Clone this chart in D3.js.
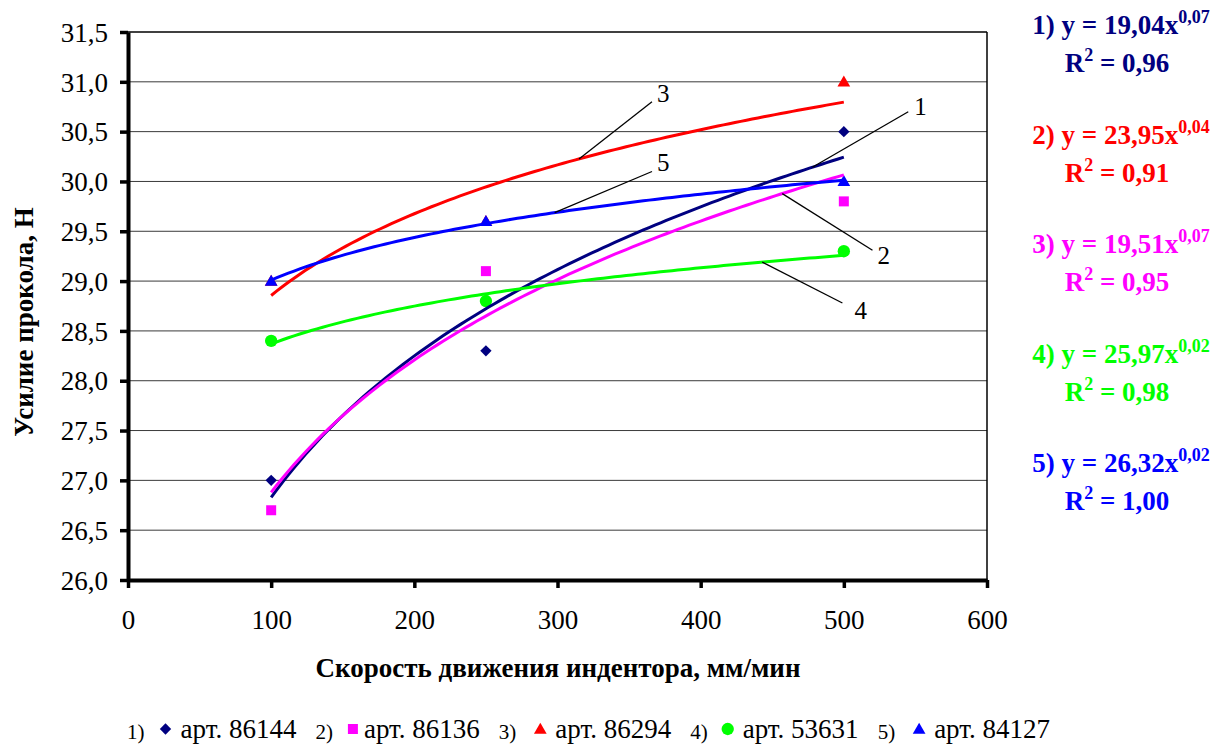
<!DOCTYPE html>
<html>
<head>
<meta charset="utf-8">
<script src="https://cdn.jsdelivr.net/npm/d3@7"></script>
<style>
  html, body { margin: 0; padding: 0; background: #fff; }
  svg { display: block; }
</style>
</head>
<body>
<svg id="chart" width="1224" height="747"></svg>
<script>
// Measured speeds of the indenter, mm/min
const speeds = [100, 250, 500];

// Puncture force (N) for each article
const art86144 = [27.0, 28.3, 30.5];
const art86136 = [26.7, 29.1, 29.8];
const art86294 = [29.0, 29.6, 31.0];
const art53631 = [28.4, 28.8, 29.3];
const art84127 = [29.0, 29.6, 30.0];

const seriesLabels = ["арт. 86144", "арт. 86136", "арт. 86294", "арт. 53631", "арт. 84127"];
const seriesNumbers = ["1)", "2)", "3)", "4)", "5)"];
const seriesColors = ["#000080", "#FF00FF", "#FF0000", "#00FF00", "#0000FF"];
const seriesSymbols = ["diamond", "square", "triangle", "circle", "triangle"];

// Axis ticks
const xTickValues = [0, 100, 200, 300, 400, 500, 600];
const yTickValues = [26.0, 26.5, 27.0, 27.5, 28.0, 28.5, 29.0, 29.5, 30.0, 30.5, 31.0, 31.5];

// Regression equations shown at the right
const eqNumbers = ["1)", "2)", "3)", "4)", "5)"];
const eqCoefs = ["19,04", "23,95", "19,51", "25,97", "26,32"];
const eqExps = ["0,07", "0,04", "0,07", "0,02", "0,02"];
const eqR2 = ["0,96", "0,91", "0,95", "0,98", "1,00"];
const eqColors = ["#000080", "#FF0000", "#FF00FF", "#00FF00", "#0000FF"];

// Leader-line callouts: series index, speed of the anchor on the trend curve,
// and the outer end of the leader in data units
const calloutText = ["3", "5", "1", "2", "4"];
const calloutSeries = [2, 4, 0, 1, 3];
const calloutAnchorX = [315, 298, 478, 457, 443];
const calloutEndX = [366, 366, 545, 520, 499];
const calloutEndY = [30.80, 30.10, 30.70, 29.31, 28.78];

const FONT = "'Liberation Serif', 'Times New Roman', serif";

const series = [art86144, art86136, art86294, art53631, art84127].map((vals, i) => ({
  name: seriesLabels[i], num: seriesNumbers[i], color: seriesColors[i], symbol: seriesSymbols[i],
  points: speeds.map((x, j) => ({ x, y: vals[j] }))
}));

// Least-squares power fit y = a * x^b (linear in log-log space)
function powerFit(points) {
  const lx = points.map(p => Math.log(p.x)), ly = points.map(p => Math.log(p.y));
  const mx = d3.mean(lx), my = d3.mean(ly);
  let sxy = 0, sxx = 0;
  lx.forEach((v, i) => { sxy += (v - mx) * (ly[i] - my); sxx += (v - mx) * (v - mx); });
  const b = sxy / sxx;
  const a = Math.exp(my - b * mx);
  return x => a * Math.pow(x, b);
}
series.forEach(s => { s.fit = powerFit(s.points); });

const svg = d3.select("#chart");
const x = d3.scaleLinear().domain([0, 600]).range([128, 987]);
const y = d3.scaleLinear().domain([26, 31.5]).range([580, 32]);
const fmt = v => d3.format(".1f")(v).replace(".", ",");

// Horizontal gridlines
svg.append("g").selectAll("line")
  .data(yTickValues.filter(v => v > 26 && v < 31.5))
  .join("line")
  .attr("x1", x(0)).attr("x2", x(600))
  .attr("y1", d => y(d)).attr("y2", d => y(d))
  .attr("stroke", "#3a3a3a").attr("stroke-width", 1);

// Top and right frame
svg.append("line").attr("x1", x(0)).attr("x2", x(600)).attr("y1", y(31.5)).attr("y2", y(31.5))
  .attr("stroke", "#000").attr("stroke-width", 1.5);
svg.append("line").attr("x1", x(600)).attr("x2", x(600)).attr("y1", y(31.5)).attr("y2", y(26))
  .attr("stroke", "#000").attr("stroke-width", 1.5);

// Axes
const yAxis = d3.axisLeft(y).tickValues(yTickValues).tickFormat(fmt).tickSizeOuter(0).tickSizeInner(8).tickPadding(12);
const gy = svg.append("g").attr("transform", `translate(${x(0)},0)`).call(yAxis);
const xAxis = d3.axisBottom(x).tickValues(xTickValues).tickFormat(d3.format("d")).tickSizeOuter(0).tickSizeInner(8).tickPadding(22);
const gx = svg.append("g").attr("transform", `translate(0,${y(26)})`).call(xAxis);
[gx, gy].forEach(g => {
  g.attr("font-family", null).attr("font-size", null);
  g.select(".domain").attr("stroke", "#000").attr("stroke-width", 4);
  g.selectAll(".tick line").attr("stroke", "#000").attr("stroke-width", 3.5);
  g.selectAll(".tick text").attr("fill", "#000").attr("font-size", 27);
});
gy.selectAll(".tick text").attr("dy", "0.34em");
gx.selectAll(".tick text").attr("dy", "0.71em");

// Axis titles
svg.append("text")
  .attr("transform", `translate(33,${(y(26) + y(31.5)) / 2 + 16}) rotate(-90)`)
  .attr("text-anchor", "middle").attr("font-weight", "bold").attr("font-size", 27)
  .text("Усилие прокола, Н");
svg.append("text")
  .attr("x", 558).attr("y", 677)
  .attr("text-anchor", "middle").attr("font-weight", "bold").attr("font-size", 27)
  .text("Скорость движения индентора, мм/мин");

// Marker shapes
function symbolPath(kind) {
  if (kind === "diamond") return d3.symbol(d3.symbolSquare, 64)();
  if (kind === "square") return d3.symbol(d3.symbolSquare, 100)();
  if (kind === "triangle") return d3.symbol(d3.symbolTriangle, 70)();
  return d3.symbol(d3.symbolCircle, 120)();
}
function symbolTransform(kind, px, py) {
  if (kind === "diamond") return `translate(${px},${py}) rotate(45)`;
  if (kind === "triangle") return `translate(${px},${py + 1})`;
  return `translate(${px},${py})`;
}

// Data markers
series.forEach(s => {
  svg.append("g").selectAll("path")
    .data(s.points).join("path")
    .attr("d", symbolPath(s.symbol))
    .attr("transform", d => symbolTransform(s.symbol, x(d.x), y(d.y)))
    .attr("fill", s.color);
});

// Power trend curves over the measured range
const line = d3.line().x(d => x(d.x)).y(d => y(d.y)).curve(d3.curveLinear);
const xs = d3.range(100, 500.001, 4);
series.forEach(s => {
  svg.append("path")
    .attr("d", line(xs.map(v => ({ x: v, y: s.fit(v) }))))
    .attr("fill", "none").attr("stroke", s.color).attr("stroke-width", 3);
});

// Callouts with leader lines
const calloutDx = [5, 5, 6, 5, 12];
const calloutDy = [0, 0, 3, 14, 16];
calloutText.forEach((t, i) => {
  const s = series[calloutSeries[i]];
  const ax = x(calloutAnchorX[i]), ay = y(s.fit(calloutAnchorX[i]));
  const ex = x(calloutEndX[i]), ey = y(calloutEndY[i]);
  svg.append("line").attr("x1", ax).attr("y1", ay).attr("x2", ex).attr("y2", ey)
    .attr("stroke", "#000").attr("stroke-width", 1.3);
  svg.append("text").attr("x", ex + calloutDx[i]).attr("y", ey + calloutDy[i])
    .attr("font-size", 25).attr("fill", "#000").text(t);
});

// Regression equations
eqNumbers.forEach((n, i) => {
  const by = 34 + i * 109.5;
  const t1 = svg.append("text").attr("x", 1121).attr("y", by).attr("text-anchor", "middle")
    .attr("font-weight", "bold").attr("font-size", 27).attr("fill", eqColors[i]);
  t1.append("tspan").text(`${n} y = ${eqCoefs[i]}x`);
  t1.append("tspan").attr("font-size", 18).attr("dy", -11).text(eqExps[i]);
  const t2 = svg.append("text").attr("x", 1117).attr("y", by + 38).attr("text-anchor", "middle")
    .attr("font-weight", "bold").attr("font-size", 27).attr("fill", eqColors[i]);
  t2.append("tspan").text("R");
  t2.append("tspan").attr("font-size", 18).attr("dy", -11).text("2");
  t2.append("tspan").attr("dy", 11).text(" = " + eqR2[i]);
});

// Legend along the bottom
svg.selectAll("text").style("font-family", FONT);
const legend = svg.append("g");
let lx = 127;
const ly = 738;
const markerGapBefore = { diamond: 21, square: 20, triangle: 24, circle: 20 };
const markerGapAfter = { diamond: 15, square: 11, triangle: 15, circle: 15 };
series.forEach((s, i) => {
  const num = legend.append("text").attr("x", lx).attr("y", ly + 1).attr("font-size", 21)
    .style("font-family", FONT).text(s.num);
  lx += num.node().getComputedTextLength() + markerGapBefore[s.symbol];
  legend.append("path").attr("d", symbolPath(s.symbol))
    .attr("transform", symbolTransform(s.symbol, lx, ly - 9))
    .attr("fill", s.color);
  lx += markerGapAfter[s.symbol];
  const lab = legend.append("text").attr("x", lx).attr("y", ly).attr("font-size", 27)
    .style("font-family", FONT).text(s.name);
  lx += lab.node().getComputedTextLength() + 19;
});
</script>
</body>
</html>
